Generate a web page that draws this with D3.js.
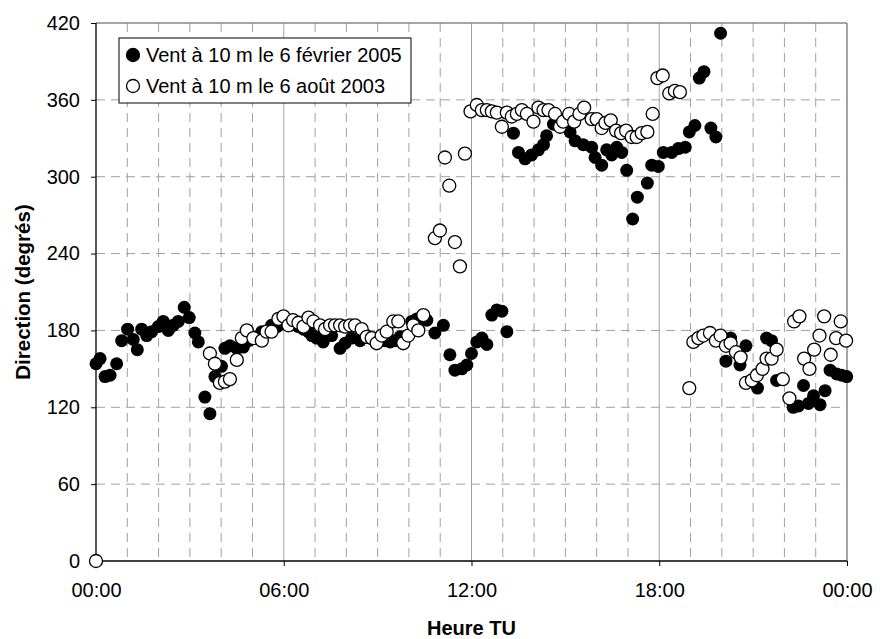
<!DOCTYPE html>
<html><head><meta charset="utf-8">
<script src="https://cdn.jsdelivr.net/npm/d3@7"></script>
<style>
html,body{margin:0;padding:0;background:#fff;}
svg{display:block;font-family:Arial,"Liberation Sans",sans-serif;}
</style></head>
<body>
<svg id="chart" width="880" height="639"></svg>
<script>
// Heure TU (h) et direction (degrés)
const febHours = [0.0,0.13,0.29,0.45,0.66,0.82,1.01,1.19,1.32,1.46,1.62,1.78,1.99,2.15,2.31,2.47,2.63,2.82,2.98,3.16,3.27,3.48,3.64,3.8,4.01,4.12,4.28,4.5,4.71,4.87,5.14,5.3,5.45,5.61,5.78,5.95,6.2,6.47,6.63,6.79,6.9,7.05,7.26,7.53,7.8,7.96,8.17,8.44,8.65,8.86,9.24,9.4,9.56,9.72,10.09,10.25,10.57,10.83,11.1,11.31,11.47,11.69,11.85,12.0,12.17,12.33,12.49,12.65,12.81,12.97,13.13,13.34,13.5,13.71,13.92,14.14,14.3,14.4,14.62,14.72,15.15,15.31,15.57,15.84,15.95,16.16,16.32,16.48,16.64,16.8,16.96,17.15,17.3,17.62,17.76,17.97,18.13,18.4,18.61,18.83,18.96,19.14,19.28,19.43,19.65,19.81,19.96,20.13,20.28,20.58,20.77,21.14,21.43,21.59,21.75,21.91,22.28,22.45,22.61,22.77,22.93,23.14,23.3,23.46,23.67,23.83,23.99];
const febDir   = [154,158,144,145,154,172,181,173,165,181,176,179,183,187,180,184,187,198,190,178,171,128,115,144,152,166,168,166,167,172,175,179,179,184,183,185,184,183,181,179,176,174,171,176,166,170,174,172,176,174,172,171,172,175,187,189,188,178,184,161,149,150,153,162,171,174,169,192,196,195,179,334,319,314,317,321,325,332,341,344,335,328,325,323,315,309,321,317,323,319,305,267,284,295,309,308,319,319,322,323,335,340,377,382,338,331,412,156,174,153,168,135,174,172,141,142,120,121,137,123,129,122,133,149,146,145,144];
const augHours = [0.0,3.64,3.8,3.96,4.12,4.28,4.5,4.66,4.82,5.03,5.3,5.45,5.61,5.83,5.99,6.15,6.3,6.47,6.63,6.79,6.95,7.16,7.32,7.48,7.64,7.8,7.96,8.12,8.28,8.49,8.65,8.81,8.97,9.13,9.29,9.5,9.66,9.82,9.98,10.14,10.3,10.46,10.83,10.99,11.15,11.29,11.47,11.63,11.79,11.97,12.17,12.33,12.49,12.65,12.81,12.97,13.13,13.29,13.45,13.61,13.77,13.98,14.14,14.3,14.46,14.67,14.83,14.93,15.12,15.28,15.45,15.6,15.84,16.0,16.16,16.28,16.45,16.62,16.78,16.94,17.12,17.28,17.44,17.62,17.79,17.94,18.11,18.32,18.5,18.66,18.96,19.09,19.25,19.41,19.62,19.81,19.96,20.13,20.28,20.45,20.6,20.77,20.96,21.12,21.3,21.43,21.59,21.75,21.95,22.16,22.31,22.48,22.63,22.8,22.95,23.12,23.27,23.48,23.65,23.8,23.97];
const augDir   = [0,162,154,139,140,142,157,174,180,174,172,179,179,189,191,184,188,186,183,190,187,184,181,184,184,184,183,184,184,181,175,174,170,176,179,187,187,170,176,184,180,192,252,258,315,293,249,230,318,351,356,352,352,351,350,339,350,347,349,352,349,343,354,352,352,349,339,343,349,343,349,354,345,345,338,342,344,336,334,336,331,331,334,335,349,377,379,365,367,366,135,171,174,176,178,172,176,168,170,163,159,139,141,145,150,158,158,165,142,127,187,191,158,150,165,176,191,161,174,187,172];
const seriesNames = ["Vent à 10 m le 6 février 2005","Vent à 10 m le 6 août 2003"];
const xTickHours = [0,6,12,18,24];
const xTickLabels = ["00:00","06:00","12:00","18:00","00:00"];
const yTicks = [0,60,120,180,240,300,360,420];
const yTitle = "Direction (degrés)";
const xTitle = "Heure TU";

const feb = febHours.map((h,i)=>({h, v:febDir[i]}));
const aug = augHours.map((h,i)=>({h, v:augDir[i]}));

const svg = d3.select("#chart");
const m = {left:96, right:33, top:23, bottom:78};
const W = 880 - m.left - m.right, H = 639 - m.top - m.bottom;
const g = svg.append("g").attr("transform",`translate(${m.left},${m.top})`);
const x = d3.scaleLinear().domain([0,24]).range([0,W]);
const y = d3.scaleLinear().domain([0,420]).range([H,0]);
const grid = "#a0a0a0";
const FS = 20;

// horizontal gridlines
g.append("g").selectAll("line").data(yTicks.filter(t=>t>0&&t<420)).join("line")
  .attr("x1",0).attr("x2",W).attr("y1",d=>y(d)).attr("y2",d=>y(d))
  .attr("stroke",grid).attr("stroke-width",1).attr("stroke-dasharray","9,6");
// vertical gridlines (hourly)
g.append("g").selectAll("line").data(d3.range(1,24)).join("line")
  .attr("x1",d=>x(d)).attr("x2",d=>x(d)).attr("y1",0).attr("y2",H)
  .attr("stroke",grid).attr("stroke-width",1)
  .attr("stroke-dasharray",d=> d%6===0 ? null : "9,6");
// top and right border
g.append("line").attr("x1",0).attr("x2",W).attr("y1",0).attr("y2",0).attr("stroke","#888").attr("stroke-width",1.5);
g.append("line").attr("x1",W).attr("x2",W).attr("y1",0).attr("y2",H).attr("stroke","#888").attr("stroke-width",1.5);

// axes
const xAxis = d3.axisBottom(x).tickValues(xTickHours).tickFormat((d,i)=>xTickLabels[i]).tickSize(5).tickPadding(17);
const yAxis = d3.axisLeft(y).tickValues(yTicks).tickSize(5).tickPadding(11);
const gx = g.append("g").attr("transform",`translate(0,${H})`).call(xAxis);
const gy = g.append("g").call(yAxis);
[gx,gy].forEach(a=>{
  a.select(".domain").attr("stroke","#000").attr("stroke-width",1.3);
  a.selectAll(".tick line").attr("stroke","#000");
  a.selectAll("text").attr("fill","#000").attr("font-size",FS).attr("font-family","Arial, 'Liberation Sans', sans-serif");
});
gx.select(".domain").attr("d",`M0,0H${W}`);
gy.select(".domain").attr("d",`M0,0V${H}`);

// points
const r = 6.5;
g.append("g").selectAll("circle").data(feb).join("circle")
  .attr("cx",d=>x(d.h)).attr("cy",d=>y(d.v)).attr("r",r).attr("fill","#000");
g.append("g").selectAll("circle").data(aug).join("circle")
  .attr("cx",d=>x(d.h)).attr("cy",d=>y(d.v)).attr("r",r).attr("fill","#fff").attr("stroke","#000").attr("stroke-width",1.3);

// axis titles
svg.append("text").attr("x",m.left+W/2).attr("y",635).attr("text-anchor","middle")
  .attr("font-size",FS).attr("font-weight","bold").text(xTitle);
svg.append("text").attr("transform",`translate(30,${m.top+H/2}) rotate(-90)`).attr("text-anchor","middle")
  .attr("font-size",20.5).attr("font-weight","bold").text(yTitle);

// legend
const lg = svg.append("g").attr("transform","translate(119,38)");
const lgW = 292, lgH = 65;
lg.append("rect").attr("width",lgW).attr("height",lgH).attr("fill","#fff").attr("stroke","#000").attr("stroke-width",1);
const entries = lg.selectAll("g.e").data(seriesNames).join("g").attr("class","e")
  .attr("transform",(d,i)=>`translate(0,${17+i*31})`);
entries.append("circle").attr("cx",14).attr("cy",0).attr("r",6.5)
  .attr("fill",(d,i)=>i===0?"#000":"#fff").attr("stroke","#000").attr("stroke-width",1.3);
entries.append("text").attr("x",27).attr("y",0).attr("dy","0.35em").attr("font-size",FS).text(d=>d);
</script>
</body></html>
